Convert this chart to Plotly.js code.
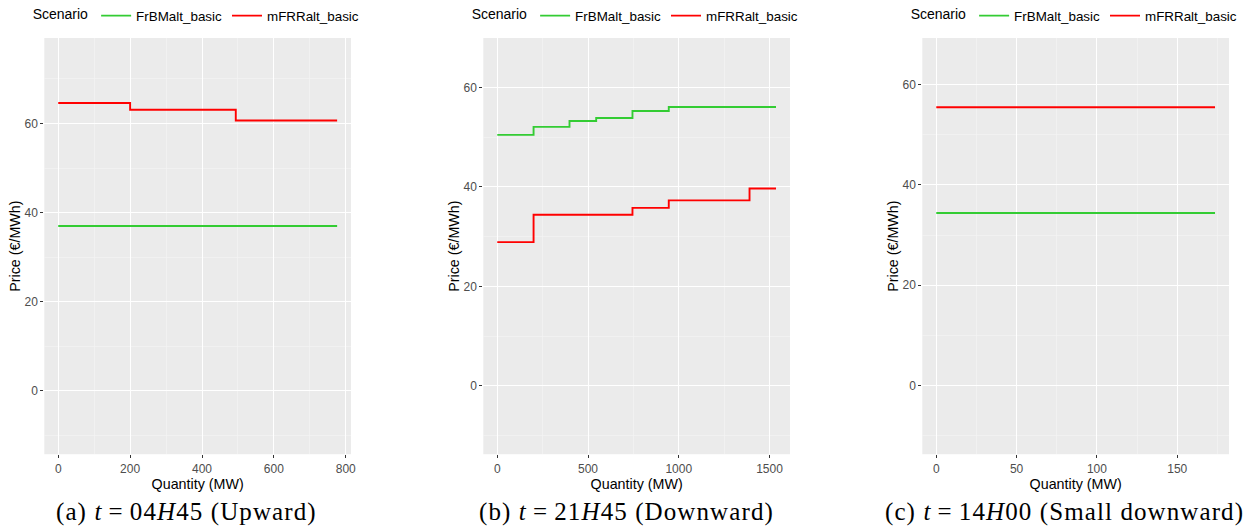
<!DOCTYPE html>
<html>
<head>
<meta charset="utf-8">
<script src="https://cdn.plot.ly/plotly-3.0.1.min.js"></script>
<style>
html,body{margin:0;padding:0;background:#fff;}
#chart{width:1248px;height:531px;}
.annotation-text{letter-spacing:1.1px;}
</style>
</head>
<body>
<div id="chart"></div>
<script>
// Panel (a) t = 04H45 (Upward)
const a_frbm_x = [0, 776];
const a_frbm_y = [37.0, 37.0];
const a_mfrr_x = [0, 200, 494, 776];
const a_mfrr_y = [64.6, 63.1, 60.7, 60.7];
// Panel (b) t = 21H45 (Downward)
const b_frbm_x = [0, 200, 398, 545, 745, 945, 1536];
const b_frbm_y = [50.5, 52.1, 53.3, 53.9, 55.3, 56.1, 56.1];
const b_mfrr_x = [0, 200, 745, 945, 1390, 1536];
const b_mfrr_y = [28.9, 34.4, 35.8, 37.3, 39.7, 39.7];
// Panel (c) t = 14H00 (Small downward)
const c_frbm_x = [0, 173.5];
const c_frbm_y = [34.4, 34.4];
const c_mfrr_x = [0, 173.5];
const c_mfrr_y = [55.5, 55.5];

const seriesNames = ["FrBMalt_basic", "mFRRalt_basic"];
const captions = [
  "(a) <i>t</i>&#8201;=&#8201;04<i>H</i>45 (Upward)",
  "(b) <i>t</i>&#8201;=&#8201;21<i>H</i>45 (Downward)",
  "(c) <i>t</i>&#8201;=&#8201;14<i>H</i>00 (Small downward)"
];
const xTitle = "Quantity (MW)";
const yTitle = "Price (€/MWh)";

const GREEN = "#33CC33", RED = "#FF0000";
const W = 1248, H = 531;

function tr(x, y, name, color, xa, ya, leg) {
  return {x: x, y: y, name: name, type: "scatter", mode: "lines",
    line: {shape: "hv", color: color, width: 1.9},
    xaxis: xa, yaxis: ya, legend: leg, hoverinfo: "x+y"};
}
const data = [
  tr(a_frbm_x, a_frbm_y, seriesNames[0], GREEN, "x", "y", "legend"),
  tr(a_mfrr_x, a_mfrr_y, seriesNames[1], RED, "x", "y", "legend"),
  tr(b_frbm_x, b_frbm_y, seriesNames[0], GREEN, "x2", "y2", "legend2"),
  tr(b_mfrr_x, b_mfrr_y, seriesNames[1], RED, "x2", "y2", "legend2"),
  tr(c_frbm_x, c_frbm_y, seriesNames[0], GREEN, "x3", "y3", "legend3"),
  tr(c_mfrr_x, c_mfrr_y, seriesNames[1], RED, "x3", "y3", "legend3")
];

const panels = [[44.3, 351], [483.3, 790], [922.3, 1229]];
const yDom = [(H - 453.5) / H, (H - 33.3) / H];
const SANS = "Liberation Sans, Arial, sans-serif";
const tickFont = {family: SANS, size: 12, color: "#4D4D4D"};
const titleFont = {family: SANS, size: 14.3, color: "#000000"};

function oddMultiples(step, lo, hi) {
  const out = [];
  for (let v = Math.ceil(lo / step) * step; v <= hi; v += step) {
    if (Math.round(v / step) % 2 !== 0) out.push(v);
  }
  return out;
}

function xaxis(i, range, dtick, anchor) {
  return {domain: [panels[i][0] / W, panels[i][1] / W], anchor: anchor, range: range,
    dtick: dtick, tick0: 0, showgrid: true, gridcolor: "#FFFFFF", gridwidth: 1,
    zeroline: false, showline: false, ticks: "outside", ticklen: 3, tickwidth: 1,
    tickcolor: "#333333", tickfont: tickFont, ticklabelstandoff: -4.5,
    minor: {tickvals: oddMultiples(dtick / 2, range[0], range[1]), showgrid: true,
            gridcolor: "#F5F5F5", gridwidth: 0.6, ticks: ""},
    title: {text: xTitle, font: titleFont, standoff: 0}, fixedrange: true};
}
function yaxis(i, range, anchor) {
  return {domain: yDom, anchor: anchor, range: range, dtick: 20, tick0: 0,
    showgrid: true, gridcolor: "#FFFFFF", gridwidth: 1, zeroline: false, showline: false,
    ticks: "outside", ticklen: 3, tickwidth: 1, tickcolor: "#333333", tickfont: tickFont,
    minor: {tickvals: oddMultiples(10, range[0], range[1]), showgrid: true,
            gridcolor: "#F5F5F5", gridwidth: 0.6, ticks: ""},
    title: {text: yTitle, font: titleFont, standoff: 0}, fixedrange: true};
}
function legend(i) {
  return {orientation: "h", x: (panels[i][0] + panels[i][1]) / 2 / W, xanchor: "center",
    y: 1 - 11 / H, yanchor: "middle", bgcolor: "rgba(0,0,0,0)",
    font: {family: SANS, size: 13.4, color: "#000"},
    title: {text: "Scenario", font: {family: SANS, size: 14, color: "#000"}, side: "left"},
    itemclick: false, itemdoubleclick: false, tracegroupgap: 0, itemwidth: 30};
}

const captionCenters = [186, 626, 1064];
const annotations = captions.map((t, i) => ({
  text: t, xref: "paper", yref: "paper", x: captionCenters[i] / W, y: 1 - 512 / H,
  xanchor: "center", yanchor: "middle", showarrow: false,
  font: {family: "Liberation Serif, DejaVu Serif, serif", size: 25, color: "#000"}
}));

const layout = {
  width: W, height: H, margin: {l: 0, r: 0, t: 0, b: 0},
  paper_bgcolor: "#FFFFFF", plot_bgcolor: "#EBEBEB",
  showlegend: true,
  xaxis: xaxis(0, [-38.8, 814.6], 200, "y"),
  yaxis: yaxis(0, [-14.2, 79.2], "x"),
  xaxis2: xaxis(1, [-77, 1613], 500, "y2"),
  yaxis2: yaxis(1, [-13.8, 70], "x2"),
  xaxis3: xaxis(2, [-8.7, 182.2], 50, "y3"),
  yaxis3: yaxis(2, [-13.7, 69.3], "x3"),
  legend: legend(0), legend2: legend(1), legend3: legend(2),
  annotations: annotations
};

Plotly.newPlot("chart", data, layout, {displayModeBar: false, responsive: false, staticPlot: true});
</script>
</body>
</html>
